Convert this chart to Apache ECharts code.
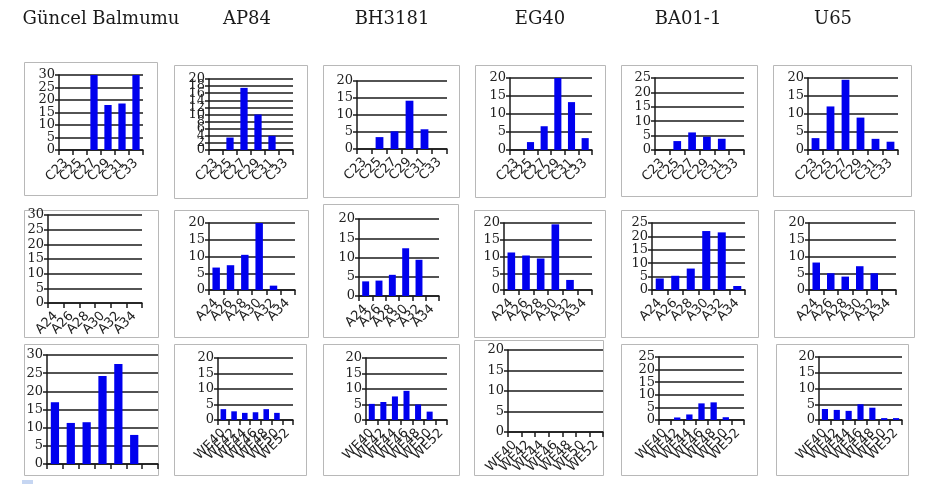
<!DOCTYPE html>
<html>
<head>
<meta charset="utf-8">
<script src="https://cdn.jsdelivr.net/npm/echarts@6/dist/echarts.min.js"></script>
<style>html,body{margin:0;padding:0;background:#fff}#c{width:928px;height:484px}</style>
</head>
<body>
<div id="c"></div>
<script>
// ---- data ----
const columnTitles = ['Güncel Balmumu', 'AP84', 'BH3181', 'EG40', 'BA01-1', 'U65'];
const catsC = ['C23', 'C25', 'C27', 'C29', 'C31', 'C33'];
const catsA = ['A24', 'A26', 'A28', 'A30', 'A32', 'A34'];
const catsWE = ['WE40', 'WE42', 'WE44', 'WE46', 'WE48', 'WE50', 'WE52'];

// y tick labels
const ticks30 = ['0', '5', '10', '15', '20', '25', '30'];
const ticks25 = ['0', '5', '10', '15', '20', '25'];
const ticks20 = ['0', '5', '10', '15', '20'];
const ticks20by2 = ['0', '2', '4', '6', '8', '10', '12', '14', '16', '18', '20'];

// row 1: C (alkanes)
const cGuncel = [0, 0, 30, 18, 18.6, 30];
const cAP84 = [0, 3.5, 17.5, 10, 4, 0];
const cBH3181 = [0, 3.5, 5.2, 14.2, 5.8, 0];
const cEG40 = [0, 2.2, 6.6, 20, 13.3, 3.3];
const cBA011 = [0, 3.1, 6.1, 4.6, 3.9, 0];
const cU65 = [3.3, 12.1, 19.5, 9.0, 3.1, 2.3];

// row 2: A (acids)
const aGuncel = [0, 0, 0, 0, 0, 0];
const aAP84 = [6.7, 7.4, 10.5, 20, 1.3, 0];
const aBH3181 = [3.8, 4.0, 5.5, 12.4, 9.4, 0];
const aEG40 = [11.2, 10.3, 9.4, 19.6, 3.0, 0];
const aBA011 = [4.3, 5.3, 8.0, 22.0, 21.5, 1.5];
const aU65 = [8.2, 5.0, 4.0, 7.1, 5.0, 0];

// row 3: WE (wax esters)
const weGuncel = [17, 11.3, 11.5, 24.2, 27.5, 8.0, 0];
const weAP84 = [3.5, 2.8, 2.3, 2.5, 3.5, 2.3, 0];
const weBH3181 = [5.2, 5.8, 7.6, 9.4, 5.0, 2.7, 0];
const weEG40 = [0, 0, 0, 0, 0, 0, 0];
const weBA011 = [0, 1.0, 2.2, 6.6, 7.0, 1.1, 0];
const weU65 = [3.5, 3.2, 2.9, 5.0, 3.9, 0.6, 0.6];

// y-axis tick labels per panel
const yTicks = [
  [ticks30, ticks20by2, ticks20, ticks20, ticks25, ticks20],
  [ticks30, ticks20, ticks20, ticks20, ticks25, ticks20],
  [ticks30, ticks20, ticks20, ticks20, ticks25, ticks20]
];

// ---- layout (not data) ----
const titleX = [101, 247, 392, 540, 688, 833];
const frames = [
  [[24,62,133,133],[174,65,133,133],[323,65,136,132],[475,65,130,132],[621,65,136,131],[773,65,138,131]],
  [[24,210,134,127],[174,210,134,127],[323,204,135,133],[474,210,131,127],[621,210,137,127],[774,210,140,127]],
  [[24,344,134,131],[174,344,132,131],[323,344,136,131],[474,340,129,135],[621,344,136,131],[776,344,132,131]]
];
const grids = [
  [[59,75,84,75],[209,79,84,71],[357,81,90,68],[510,78,82,72],[655,78,89,72],[808,78,90,72]],
  [[48,215,94,88],[209,223,86,67],[359,219,80,77],[504,223,88,67],[652,223,93,67],[809,223,87,67]],
  [[47,355,111,109],[218,358,75,62],[366,358,81,62],[508,350,95,82],[659,357,85,63],[819,357,83,63]]
];

const rowsCats = [catsC, catsA, catsWE];
const rowsData = [
  [cGuncel, cAP84, cBH3181, cEG40, cBA011, cU65],
  [aGuncel, aAP84, aBH3181, aEG40, aBA011, aU65],
  [weGuncel, weAP84, weBH3181, weEG40, weBA011, weU65]
];

const lineCol = '#1a1a1a';
const option = {
  animation: false,
  backgroundColor: '#fff',
  grid: [], xAxis: [], yAxis: [], series: [],
  graphic: []
};

columnTitles.forEach((t, i) => {
  option.graphic.push({
    type: 'text', x: titleX[i], y: 10,
    style: { text: t, font: '18px "DejaVu Serif"', fill: '#1a1a1a', textAlign: 'center', textVerticalAlign: 'top' },
    silent: true
  });
});

let gi = 0;
for (let r = 0; r < 3; r++) {
  for (let c = 0; c < 6; c++) {
    const f = frames[r][c];
    option.graphic.push({
      type: 'rect', shape: { x: f[0] + 0.5, y: f[1] + 0.5, width: f[2], height: f[3] },
      style: { fill: 'none', stroke: '#b8b8b8', lineWidth: 1 }, silent: true, z: -1
    });
    const g = grids[r][c];
    const ticks = yTicks[r][c];
    const yMax = Number(ticks[ticks.length - 1]);
    const yStep = Number(ticks[1]) - Number(ticks[0]);
    option.grid.push({ left: g[0], top: g[1], width: g[2], height: g[3], containLabel: false });
    const hideX = (r === 2 && c === 0);
    const xi = option.xAxis.length;
    option.xAxis.push({
      gridIndex: gi, type: 'category', data: rowsCats[r],
      axisLine: { show: true, lineStyle: { color: lineCol, width: 1.5 } },
      axisTick: { show: true, alignWithLabel: false, length: 5, lineStyle: { color: lineCol, width: 1.5 } },
      axisLabel: { show: !hideX, interval: 0, rotate: 45, margin: 11, fontSize: 13, color: '#222', fontFamily: 'DejaVu Sans' },
      splitLine: { show: false }
    });
    const yi = option.yAxis.length;
    // value axis: scale for bars, line, ticks, grid lines
    option.yAxis.push({
      gridIndex: gi, type: 'value', min: 0, max: yMax, interval: yStep,
      axisLine: { show: true, lineStyle: { color: lineCol, width: 1.5 } },
      axisTick: { show: true, length: 4, lineStyle: { color: lineCol, width: 1.5 } },
      axisLabel: { show: false },
      splitLine: { show: true, lineStyle: { color: lineCol, width: 1.5 } }
    });
    // label axis: tick labels placed on the same positions
    option.yAxis.push({
      gridIndex: gi, type: 'category', data: ticks, boundaryGap: false, position: 'left',
      axisLine: { show: false }, axisTick: { show: false }, splitLine: { show: false },
      axisLabel: { interval: 0, fontSize: 13, color: '#222', fontFamily: 'DejaVu Serif', margin: 4 }
    });
    option.series.push({
      type: 'bar', xAxisIndex: xi, yAxisIndex: yi, data: rowsData[r][c],
      barWidth: '52%', itemStyle: { color: '#0000ee' }, z: 3
    });
    gi++;
  }
}

option.graphic.push({
  type: 'rect', shape: { x: 22, y: 480, width: 11, height: 4 },
  style: { fill: '#c6d6f2' }, silent: true
});

const chart = echarts.init(document.getElementById('c'), null, { renderer: 'canvas' });
chart.setOption(option);
</script>
</body>
</html>
